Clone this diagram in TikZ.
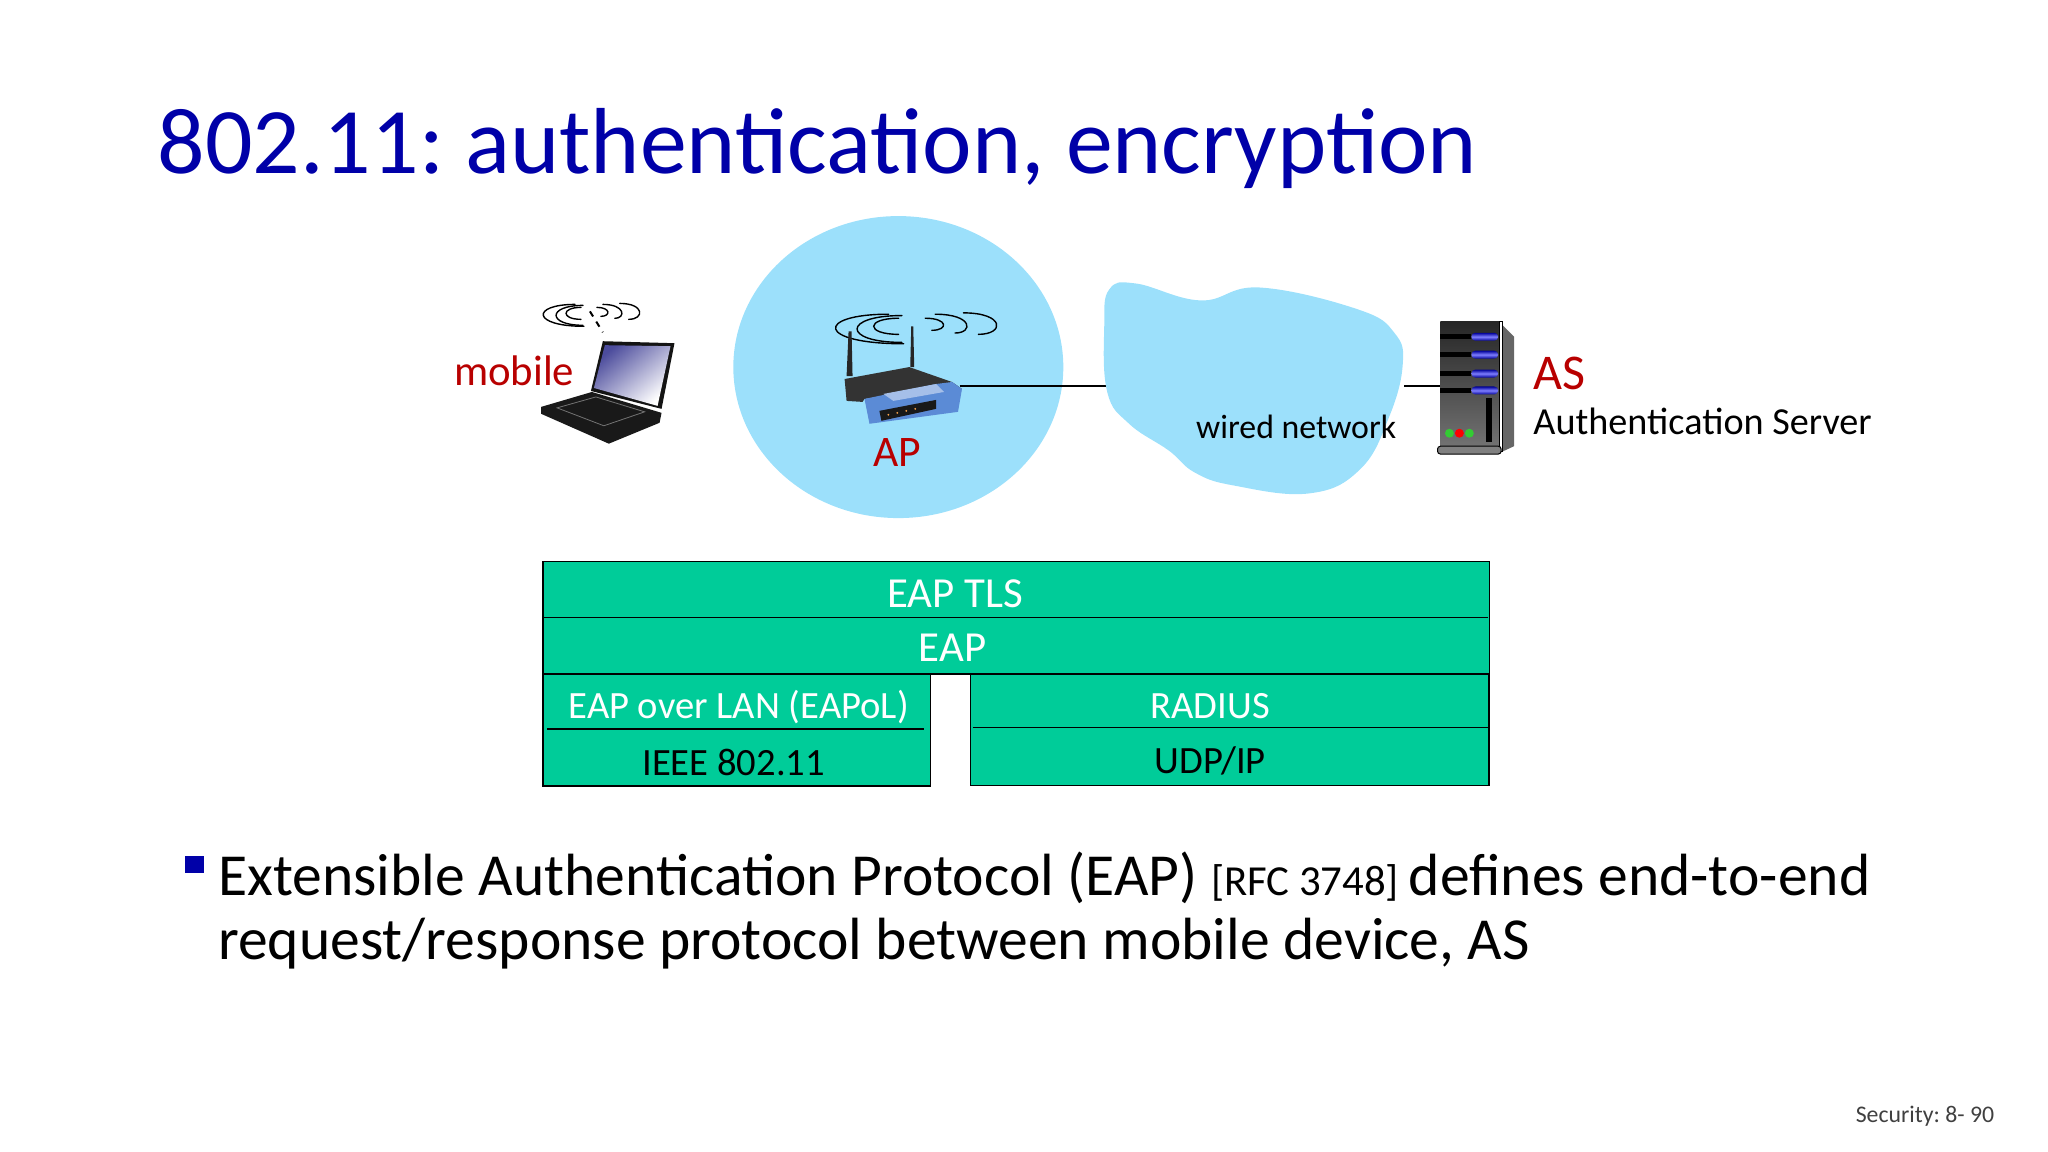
\documentclass[tikz,border=0pt]{standalone}
\usepackage{fontspec}
\setmainfont{Carlito}
\usetikzlibrary{shapes.geometric}
\frenchspacing

\definecolor{slideblue}{HTML}{0000A8}
\definecolor{labelred}{HTML}{B80000}
\definecolor{cellblue}{HTML}{9CE0FB}
\definecolor{layergreen}{HTML}{00CC99}
\definecolor{routerblue}{HTML}{5B8BD6}
\definecolor{ledgreen}{HTML}{33CC33}

\tikzset{
  slidetext/.style={inner sep=0pt,anchor=base west},
  gadget/.style={inner sep=0pt,minimum width=#1},
  layerbox/.style={draw=black,fill=layergreen,line width=0.7pt,inner sep=0pt,anchor=north west},
  layerlabel/.style={inner sep=0pt,anchor=base,font=\fontsize{19.3}{21}\selectfont},
  radiowaves/.pic={
    \foreach \ax/\ay/\bx/\cx/\cy in {-7/13/-60/-16/-9,-8/12/-44/-8/-8,-10/6/-30/-10/-6,
                                      38/6/54/29/-10,24/5/35/12/-9,10/3/20/6/-6}
      \draw[line width=0.7pt,line cap=round] (\ax,\ay) .. controls (\bx,\ay) and (\bx,\cy) .. (\cx,\cy);
  }
}

\begin{document}
\begin{tikzpicture}[x=0.4974pt,y=-0.4974pt]
\useasboundingbox (0,0) rectangle (2058.7,1158);

% title
\node[slidetext,text=slideblue,font=\fontsize{46.9}{50}\selectfont] (title) at (158,174) {802.11: authentication, encryption};

% named places for the connectors
\node[gadget=52pt,minimum height=30pt] (router) at (912,388) {};
\node[gadget=146pt,minimum height=60pt] (wired) at (1264.5,388) {};
\node[gadget=30pt,minimum height=60pt] (server) at (1478,388) {};

% AP cell and wired cloud
\node[ellipse,fill=cellblue,inner sep=0pt,minimum width=165pt,minimum height=151pt] (cell) at (903,369) {};
\draw[line width=0.6pt] (router.east) -- (wired.west);
\draw[line width=0.6pt] (wired.east) -- (server.west);
\fill[cellblue] plot[smooth cycle,tension=0.7] coordinates {(1142,285) (1207,302) (1266,289) (1365,311) (1402,335)
  (1410,367) (1396,420) (1367,472) (1316,496) (1240,488) (1201,475) (1175,453) (1135,426) (1113,394) (1110,328) (1115,291)};

% mobile laptop
\pic at (594,315) {radiowaves};
\draw[line width=1pt,dashed] (593,313) -- (606,334);
\begin{scope}[shift={(3,3)}]
\fill[black!92] (603,340) -- (675,342) -- (662,408) -- (591,390) -- cycle;
\shade[top color=blue!45!black!70!white,bottom color=white,shading angle=40] (605,344) -- (671,345) -- (658,405) -- (594,387) -- cycle;
\fill[black!90] (541,406) -- (592,391) -- (662,412) -- (660,422) -- (609,443) -- (541,413) -- cycle;
\draw[black!55,line width=0.4pt] (557,407) -- (596,396) -- (645,411) -- (604,425) -- cycle;
\end{scope}

% router
\pic[xscale=1.67,yscale=1.35] at (920,328) {radiowaves};
\begin{scope}[shift={(5,1)}]
\fill[black!85] (848,332) -- (851,332) -- (852,377) -- (846,377) -- cycle;
\fill[black!85] (911,327) -- (913,327) -- (914,368) -- (910,368) -- cycle;
\fill[black!80] (844,380) -- (909,368) -- (952,383) -- (962,390) -- (864,400) -- (862,403) -- (846,402) -- cycle;
\fill[routerblue] (864,400) -- (936,385) -- (952,383) -- (962,390) -- (958,413) -- (869,425) -- cycle;
\fill[routerblue!55!white] (883,395) -- (936,385) -- (944,393) -- (893,402) -- cycle;
\fill[black!90] (879,412) -- (936,401) -- (936,410) -- (881,422) -- cycle;
\foreach \ledx/\ledy in {888/416,897/414,906/412,915/410}
  \fill[orange!70!white] (\ledx,\ledy) circle[radius=1];
\end{scope}

% server
\begin{scope}[shift={(9,1.5)}]
\fill[black!60] (1498,322) -- (1513,337) -- (1513,447) -- (1500,453) -- cycle;
\shade[top color=black!85,bottom color=black!55] (1439,322) rectangle (1498,448);
\draw[black,line width=0.6pt,fill=white] (1498,322) -- (1501,322) -- (1501,452) -- (1498,452) -- cycle;
\foreach \slotx in {337,355,374,391} {
  \fill[black] (1439,\slotx-2.5) rectangle (1470,\slotx+2.5);
  \shade[top color=blue!60!black,bottom color=blue!60!black,middle color=blue!50!white,rounded corners=2pt] (1470,\slotx-4) rectangle (1497,\slotx+4);
}
\fill[black] (1485,399) rectangle (1491,443);
\draw[black,fill=black!50,rounded corners=1.5pt,line width=0.5pt] (1436,447) rectangle (1500,455);
\fill[ledgreen] (1448,434) circle[radius=4.5];
\fill[red] (1458,434) circle[radius=4.5];
\fill[ledgreen] (1468,434) circle[radius=4.5];
\end{scope}

% labels of the top part
\node[slidetext,text=labelred,font=\fontsize{21.4}{23}\selectfont] (mobile) at (456,387.5) {mobile};
\node[slidetext,text=labelred,anchor=base,font=\fontsize{21.8}{24}\selectfont] (ap) at (902,469) {AP};
\node[slidetext,font=\fontsize{16.9}{19}\selectfont] (wiredlabel) at (1202,441) {wired network};
\node[slidetext,text=labelred,font=\fontsize{25}{27}\selectfont] (as) at (1541,392) {AS};
\node[slidetext,font=\fontsize{19.1}{21}\selectfont] (asname) at (1541,437) {Authentication Server};

% protocol layers
\node[layerbox,minimum width=473.3pt,minimum height=56.3pt] (upper) at (545,563.5) {};
\draw[line width=0.7pt] (547,621) -- (1496,621);
\node[layerbox,minimum width=193.7pt,minimum height=56pt] (lanstack) at (545,677) {};
\draw[line width=0.7pt] (550,733) -- (929,733);
\node[layerbox,minimum width=259.2pt,minimum height=55.6pt] (radiusstack) at (975,677) {};
\draw[line width=0.7pt] (978,731) -- (1496,731);
\node[layerlabel,text=white,font=\fontsize{21.4}{23}\selectfont] (tls) at (960,611) {EAP TLS};
\node[layerlabel,text=white,font=\fontsize{21.4}{23}\selectfont] (eap) at (957.5,664.5) {EAP};
\node[layerlabel,text=white] (eapol) at (742.5,722.5) {EAP over LAN (EAPoL)};
\node[layerlabel] (ieee) at (737.5,780) {IEEE 802.11};
\node[layerlabel,text=white] (radius) at (1216.5,722) {RADIUS};
\node[layerlabel] (udpip) at (1216.5,777.5) {UDP/IP};

% bullet text
\fill[slideblue] (186,860) rectangle (205,878);
\node[slidetext,font=\fontsize{29.8}{34}\selectfont] (line1) at (219,900.3) {Extensible Authentication Protocol (EAP) {\fontsize{21.4}{24}\selectfont [RFC 3748] }defines end-to-end};
\node[slidetext,font=\fontsize{29.8}{34}\selectfont] (line2) at (219,964.3) {request/response protocol between mobile device, AS};

% page number
\node[slidetext,anchor=base east,text=black!75,font=\fontsize{11.9}{13}\selectfont] (pagenum) at (2005,1128) {Security: 8- 90};
\end{tikzpicture}
\end{document}
